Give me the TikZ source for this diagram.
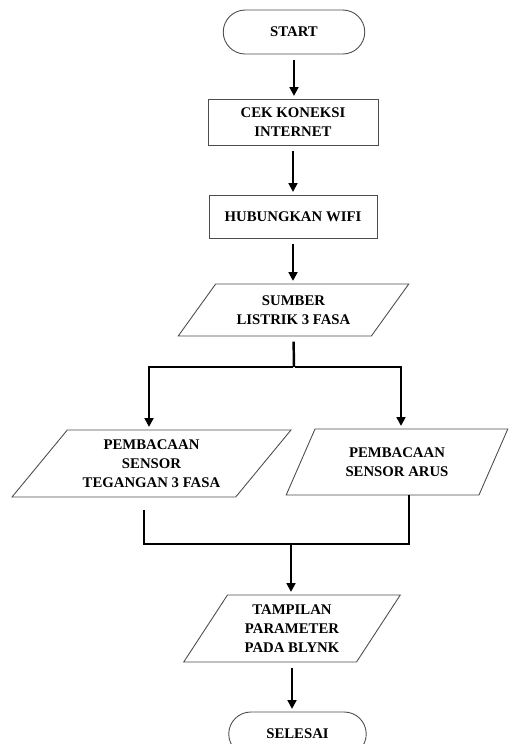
\documentclass[tikz,border=0pt]{standalone}
\usepackage{fontspec}
\setmainfont{Liberation Serif}
\usetikzlibrary{shapes.geometric,shapes.misc,arrows.meta}

\begin{document}
\begin{tikzpicture}[
    every node/.style={font=\bfseries\fontsize{8.4}{10.8}\selectfont,
        align=center, inner sep=1pt},
    terminal/.style={rounded rectangle, draw=black!70,
        line width=0.5pt, minimum width=2.9cm, minimum height=0.88cm},
    process/.style={rectangle, draw=black!70, line width=0.5pt},
    io/.style={trapezium, trapezium stretches=true, draw=black!70,
        line width=0.5pt},
    flow/.style={line width=1.4pt,
        -{Triangle[width=5pt,length=5pt]},
        shorten <=3pt, shorten >=1.5pt},
    joint/.style={line width=1.4pt}
    ]
    \useasboundingbox (0,0) rectangle (10.18,-14.88);

    % Top column
    \node[terminal] (start) at (5.88,-0.64) {START};
    \node[process, minimum width=3.4cm, minimum height=0.92cm]
        (cek) at (5.86,-2.44) {CEK KONEKSI\\INTERNET};
    \node[process, minimum width=3.36cm, minimum height=0.86cm]
        (wifi) at (5.86,-4.33) {HUBUNGKAN WIFI};
    \node[io, trapezium left angle=49, trapezium right angle=131,
        minimum width=4.62cm, minimum height=1.04cm]
        (sumber) at (5.87,-6.20) {SUMBER\\LISTRIK 3 FASA};

    \draw[flow] (start.south) -- (start.south |- cek.north);
    \draw[flow] (cek.south) -- (cek.south |- wifi.north);
    \draw[flow] (wifi.south) -- (wifi.south |- sumber.north);

    % Two sensors
    \node[io, trapezium left angle=48, trapezium right angle=132,
        minimum width=5.58cm, minimum height=1.34cm]
        (tegangan) at (3.03,-9.27)
        {PEMBACAAN\\SENSOR\\TEGANGAN 3 FASA};
    \node[io, trapezium left angle=60, trapezium right angle=120,
        minimum width=4.44cm, minimum height=1.32cm]
        (arus) at (7.94,-9.24) {PEMBACAAN\\SENSOR ARUS};

    \coordinate (split) at (5.88,-7.34);
    \draw[joint, shorten <=3pt] (sumber.south) -- (split);
    \draw[flow, shorten <=0pt] ([xshift=-0.7pt]split) -| ([xshift=-0.05cm]tegangan.north);
    \draw[flow, shorten <=0pt] ([xshift=0.7pt]split) -| ([xshift=0.08cm]arus.north);

    % Merge and output
    \node[io, trapezium left angle=57, trapezium right angle=123,
        minimum width=4.36cm, minimum height=1.34cm]
        (tampil) at (5.84,-12.57) {TAMPILAN\\PARAMETER\\PADA BLYNK};
    \node[terminal, minimum width=2.82cm] (selesai) at (5.95,-14.68)
        {SELESAI};

    \coordinate (merge) at (5.82,-10.88);
    \draw[joint, shorten <=7pt] ([xshift=-0.15cm]tegangan.south)
        |- (merge) -| ([xshift=0.24cm]arus.south);
    \draw[flow, shorten <=0pt] (merge) -- (merge |- tampil.north);
    \draw[flow] (tampil.south) -- (tampil.south |- selesai.north);

\end{tikzpicture}
\end{document}
